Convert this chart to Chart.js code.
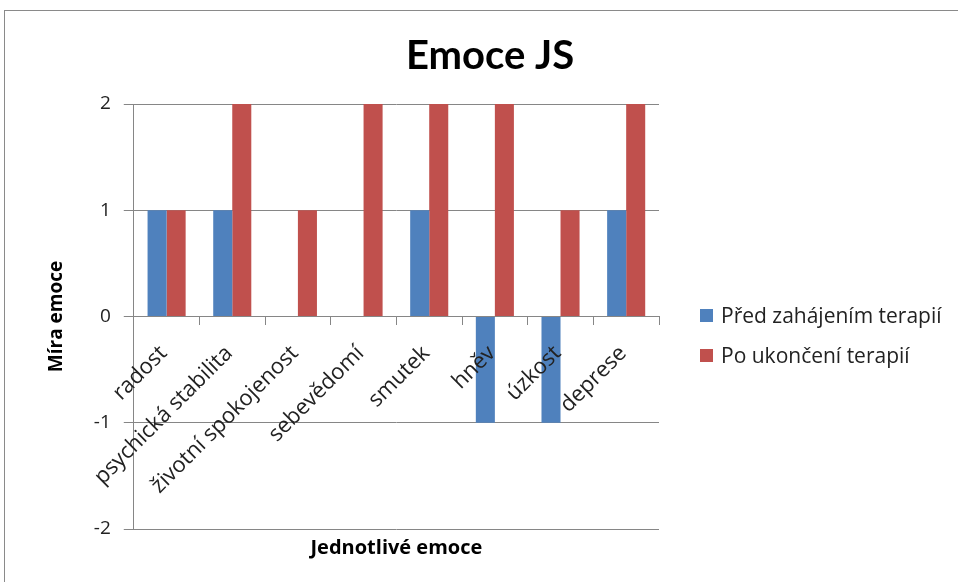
<!DOCTYPE html>
<html>
<head>
<meta charset="utf-8">
<script src="https://cdn.jsdelivr.net/npm/chart.js@4"></script>
<style>
    body { margin: 0; background: #fff; overflow: hidden; }
    #wrap { position: relative; width: 958px; height: 582px; overflow: hidden; }
    #frame { position: absolute; left: 4px; top: 10px; width: 970px; height: 590px; border: 1px solid #8a8a8a; }
    canvas { position: absolute; left: 0; top: 0; }
    #legend { position: absolute; left: 700px; top: 295px; font-family: 'Open Sans', sans-serif; font-size: 21px; color: #222; }
    .legend-item { display: flex; align-items: center; height: 40px; white-space: nowrap; }
    .swatch { display: inline-block; width: 13px; height: 13px; margin-right: 8px; }
</style>
</head>
<body>
<div id="wrap">
    <div id="frame"></div>
    <canvas id="emoceChart" width="958" height="582"></canvas>
    <div id="legend"></div>
</div>
<script>
// Data
const categories = ["radost", "psychická stabilita", "životní spokojenost", "sebevědomí", "smutek", "hněv", "úzkost", "deprese"];
const beforeValues = [1, 1, 0, 0, 1, -1, -1, 1];
const afterValues = [1, 2, 1, 2, 2, 2, 1, 2];
const yTicks = [-2, -1, 0, 1, 2];

const FONT = "'Open Sans', 'Noto Sans', sans-serif";
const TITLE_FONT = "Lato, 'Open Sans', sans-serif";
const GRID = "#868686";

// legenda in HTML (quella di Chart.js non ci sta in larghezza)
const htmlLegend = {
    id: "htmlLegend",
    afterUpdate(chart) {
        const box = document.getElementById("legend");
        box.innerHTML = "";
        chart.data.datasets.forEach(ds => {
            const item = document.createElement("div");
            item.className = "legend-item";
            item.innerHTML = `<span class="swatch" style="background:${ds.backgroundColor}"></span>${ds.label}`;
            box.appendChild(item);
        });
    }
};

const ctx = document.getElementById("emoceChart").getContext("2d");

new Chart(ctx, {
    type: "bar",
    data: {
        labels: categories,
        datasets: [
            { label: "Před zahájením terapií", data: beforeValues, backgroundColor: "#4F81BD", xAxisID: "x", yAxisID: "y" },
            { label: "Po ukončení terapií", data: afterValues, backgroundColor: "#C0504D", xAxisID: "x", yAxisID: "y" }
        ]
    },
    plugins: [htmlLegend],
    options: {
        responsive: false,
        animation: false,
        layout: { padding: { left: 40, right: 18, top: 18, bottom: 22 } },
        datasets: { bar: { categoryPercentage: 0.58, barPercentage: 1 } },
        plugins: {
            title: {
                display: true,
                text: "Emoce JS",
                color: "#000",
                font: { family: TITLE_FONT, size: 40, weight: "bold" },
                padding: { top: 14, bottom: 24 }
            },
            legend: { display: false },
            tooltip: { enabled: false }
        },
        scales: {
            x: {
                position: { y: 0 },
                grid: { offset: true, drawOnChartArea: false, tickLength: 8, color: GRID },
                border: { color: GRID },
                afterFit: scale => { scale.paddingLeft = 0; scale.paddingRight = 0; },
                ticks: {
                    z: 1,
                    autoSkip: false,
                    maxRotation: 45,
                    minRotation: 45,
                    padding: 16,
                    labelOffset: -3,
                    color: "#222",
                    font: { family: FONT, size: 22 }
                }
            },
            xt: {
                type: "category",
                position: "bottom",
                grid: { display: false, drawTicks: false },
                border: { display: false },
                ticks: { display: false },
                title: {
                    display: true,
                    text: "Jednotlivé emoce",
                    color: "#000",
                    font: { family: FONT, size: 20, weight: "bold" },
                    padding: { top: 7, bottom: 0 }
                }
            },
            y: {
                min: -2,
                max: 2,
                afterBuildTicks: axis => { axis.ticks = yTicks.map(v => ({ value: v })); },
                grid: { color: GRID, tickLength: 10 },
                border: { color: GRID },
                ticks: {
                    padding: 13,
                    color: "#222",
                    font: { family: FONT, size: 19 }
                },
                title: {
                    display: true,
                    text: "Míra emoce",
                    color: "#000",
                    font: { family: FONT, size: 19, weight: "bold" },
                    padding: { top: 5, bottom: 13 }
                }
            },
            // asse vuoto: lascia lo spazio a destra per la legenda
            yr: {
                type: "linear",
                position: "right",
                grid: { display: false, drawTicks: false },
                border: { display: false },
                ticks: { display: false },
                afterFit: scale => { scale.width = 281; }
            }
        }
    }
});
</script>
</body>
</html>
